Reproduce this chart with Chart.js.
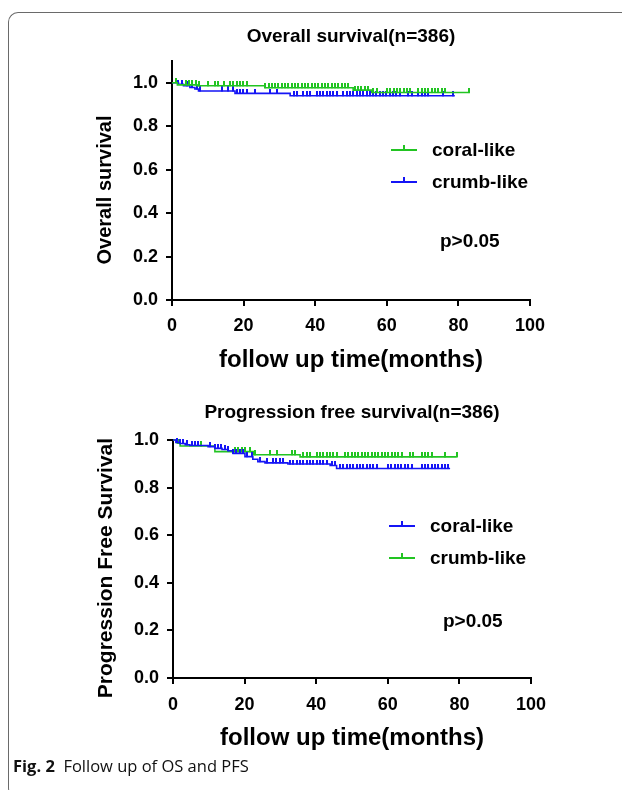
<!DOCTYPE html>
<html>
<head>
<meta charset="utf-8">
<script src="https://cdn.jsdelivr.net/npm/chart.js@4.4.0/dist/chart.umd.min.js"></script>
<style>
html,body{margin:0;padding:0;background:#fff;width:622px;height:790px;overflow:hidden;position:relative;}
#frame{position:absolute;left:8px;top:12px;width:720px;height:786px;border:1.5px solid #6a6a6a;border-right:none;border-radius:10px 0 0 10px;box-sizing:border-box;}
.cv{position:absolute;left:0;width:622px;height:380px;}
.txt{position:absolute;font:bold 19px "Liberation Sans",Arial,sans-serif;color:#000;white-space:nowrap;line-height:22px;height:22px;}
.ytl{position:absolute;font-family:"Liberation Sans",Arial,sans-serif;font-weight:bold;color:#000;white-space:nowrap;transform:translate(-50%,-50%) rotate(-90deg);line-height:1;}
.sw{position:absolute;height:2px;}
.sw i{position:absolute;left:12px;top:-4px;width:2px;height:4px;}
#cap{position:absolute;left:13px;top:755px;font:16.5px "Open Sans",sans-serif;color:#111;white-space:nowrap;line-height:22px;}
#cap b{font-weight:bold;}
</style>
</head>
<body>
<div id="frame"></div>
<canvas id="os" class="cv" width="622" height="380" style="top:0px"></canvas>
<canvas id="pfs" class="cv" width="622" height="380" style="top:380px"></canvas>
<div id="overlay"></div>
<div id="cap"><b>Fig. 2</b>&nbsp;&nbsp;Follow up of OS and PFS</div>
<script>
// ---------- data ----------
const seriesNames = ['coral-like', 'crumb-like'];
const osTitle = 'Overall survival(n=386)';
const pfsTitle = 'Progression free survival(n=386)';
const osYTitle = 'Overall survival';
const pfsYTitle = 'Progression Free Survival';
const xTitle = 'follow up time(months)';
const xTicks = [0, 20, 40, 60, 80, 100];
const yTicks = [0, 0.2, 0.4, 0.6, 0.8, 1.0];
const pText = 'p>0.05';

// Overall survival – coral-like (green)
const osCoralT = [0, 1.5, 7, 26, 50.6, 55.8];
const osCoralS = [1.0, 0.990, 0.986, 0.977, 0.966, 0.955];
const osCoralEnd = 83.2;
const osCoralCens = [1.0, 3.8, 4.7, 5.7, 6.6, 7.5, 10.1, 12.0, 12.9, 14.6, 16.2, 17.1, 18.1, 19.0, 19.9, 20.9,
  26.0, 27.0, 27.9, 28.8, 29.7, 30.7, 31.6, 32.5, 33.5, 34.4, 35.3, 36.2, 37.2, 38.1, 39.0, 39.9, 40.9, 41.8,
  42.7, 43.7, 44.6, 45.5, 46.4, 47.4, 48.3, 49.2, 51.0, 52.0, 52.9, 53.8, 54.8, 56.2, 57.2,
  60.0, 61.0, 61.9, 62.8, 63.7, 64.7, 65.6, 66.5, 68.8, 69.7, 70.7, 71.6, 72.5, 73.5, 74.4, 75.3, 76.3, 83.0];

// Overall survival – crumb-like (blue)
const osCrumbT = [0, 1.8, 3.2, 5.0, 6.4, 7.4, 17.6, 33.0];
const osCrumbS = [1.0, 0.993, 0.986, 0.978, 0.971, 0.962, 0.951, 0.940];
const osCrumbEnd = 79.0;
const osCrumbCens = [1.8, 2.7, 4.1, 5.5, 6.9, 7.8, 13.9, 15.7, 17.1, 18.1, 19.0, 19.9, 20.9, 23.2, 27.4, 29.2,
  34.0, 35.0, 36.7, 37.6, 38.5, 40.4, 41.3, 42.3, 43.2, 44.1, 45.1, 46.0, 47.8, 48.8, 49.7, 50.6, 51.6, 52.5,
  53.4, 54.4, 55.3, 56.2, 57.1, 58.1, 59.0, 59.9, 60.9, 61.8, 62.7, 63.7, 66.0, 67.0, 68.8, 69.7, 70.7, 71.6,
  75.8, 78.6];

// Progression free survival – coral-like (blue)
const pfsCoralT = [0, 0.8, 2.0, 3.4, 4.7, 9.8, 11.7, 13.7, 15.4, 16.8, 20.1, 22.3, 23.7, 25.7, 32.1, 43.9, 45.7];
const pfsCoralS = [1.0, 0.990, 0.985, 0.980, 0.977, 0.972, 0.965, 0.960, 0.955, 0.944, 0.930, 0.919, 0.909, 0.904, 0.899, 0.893, 0.880];
const pfsCoralEnd = 77.4;
const pfsCoralCens = [1.0, 2.0, 2.9, 3.8, 5.2, 6.1, 7.1, 10.3, 11.7, 12.6, 13.5, 14.5, 15.4, 16.8, 17.7, 18.7,
  19.6, 20.6, 22.0, 24.3, 26.2, 28.0, 28.9, 29.9, 30.8, 32.7, 33.6, 34.5, 35.5, 36.4, 37.3, 38.3, 39.2, 40.1,
  41.1, 42.0, 42.9, 44.3, 45.3, 46.6, 47.5, 48.5, 49.4, 50.3, 51.3, 52.2, 53.1, 54.1, 55.0, 55.9, 56.9,
  60.1, 61.0, 62.0, 62.9, 63.8, 64.8, 65.7, 66.7, 69.5, 70.4, 71.3, 72.3, 73.2, 74.1, 75.1, 76.0, 76.9];

// Progression free survival – crumb-like (green)
const pfsCrumbT = [0, 1.2, 2.0, 11.7, 22.4, 35.5];
const pfsCrumbS = [1.0, 0.987, 0.975, 0.951, 0.938, 0.929];
const pfsCrumbEnd = 79.2;
const pfsCrumbCens = [1.5, 7.8, 17.3, 18.2, 19.2, 20.1, 21.5, 22.9, 27.1, 29.0, 33.2, 34.1, 36.4, 37.4, 38.3,
  40.1, 41.0, 42.0, 42.9, 43.8, 44.8, 45.7, 48.0, 48.9, 49.9, 50.8, 51.7, 52.7, 53.6, 54.5, 55.5, 56.4, 57.3,
  58.3, 59.2, 60.1, 61.1, 62.0, 62.9, 63.9, 66.2, 67.1, 69.5, 70.4, 71.3, 72.3, 76.0, 79.2];

// ---------- styling ----------
const GREEN = '#22c422';
const BLUE = '#1515f5';
const FONT = '"Liberation Sans", Arial, sans-serif';

function stepAt(T, S, t) { let v = S[0]; for (let i = 0; i < T.length; i++) { if (T[i] <= t) v = S[i]; } return v; }
function curve(T, S, end) { const d = T.map((t, i) => ({x: t, y: S[i]})); d.push({x: end, y: S[S.length - 1]}); return d; }
function cens(T, S, C) { return C.map(t => ({x: t, y: stepAt(T, S, t)})); }
function tickImg(color) {
  const c = document.createElement('canvas'); c.width = 2; c.height = 9;
  const g = c.getContext('2d'); g.fillStyle = color; g.fillRect(0, 0, 2, 5); return c;
}

function series(T, S, end, C, color, label) {
  return [
    {label: label, data: curve(T, S, end), showLine: true, stepped: true, borderColor: color,
     borderWidth: 1.6, pointRadius: 0, fill: false, clip: false},
    {label: label + ' censored', data: cens(T, S, C), showLine: false, pointStyle: tickImg(color),
     pointRadius: 3, clip: false}
  ];
}

function makeChart(id, c) {
  return new Chart(document.getElementById(id), {
    type: 'scatter',
    data: {datasets: c.datasets},
    options: {
      responsive: false, animation: false, devicePixelRatio: 1,
      layout: {padding: {left: 0, right: c.padR, top: 0, bottom: 0}},
      plugins: {
        legend: {display: false}, tooltip: {enabled: false},
        title: {display: true, fullSize: false, text: c.title, color: '#000',
          font: {family: FONT, size: 19, weight: 'bold'}, padding: {top: c.tTop, bottom: c.tBot}}
      },
      scales: {
        x: {
          type: 'linear', min: 0, max: 100,
          afterBuildTicks: s => { s.ticks = xTicks.map(v => ({value: v})); },
          afterFit: s => { s.height = c.xH; },
          border: {display: true, color: '#000', width: 2},
          grid: {display: true, drawOnChartArea: false, drawTicks: true, tickLength: 6, color: '#000', lineWidth: 2},
          ticks: {color: '#000', font: {family: FONT, size: 18, weight: 'bold'}, padding: c.xtp, maxRotation: 0, autoSkip: false},
          title: {display: true, text: xTitle, color: '#000', font: {family: FONT, size: 24, weight: 'bold'},
            padding: {top: 0, bottom: c.xTitlePad}}
        },
        y: {
          type: 'linear', min: 0, max: c.yMax,
          afterBuildTicks: s => { s.ticks = yTicks.map(v => ({value: v})); },
          afterFit: s => { s.width = c.yW; },
          border: {display: true, color: '#000', width: 2},
          grid: {display: true, drawOnChartArea: false, drawTicks: true, tickLength: 6, color: '#000', lineWidth: 2},
          ticks: {color: '#000', font: {family: FONT, size: 18, weight: 'bold'}, padding: 8,
            callback: v => Number(v).toFixed(1)},
          title: {display: false}
        }
      }
    }
  });
}

makeChart('os', {
  title: osTitle, yMax: 1.1, padR: 92, tTop: 25.6, tBot: 12.6, xH: 80, xtp: 9.2,
  xTitlePad: 5.6, yW: 172,
  datasets: [
    ...series(osCoralT, osCoralS, osCoralEnd, osCoralCens, GREEN, seriesNames[0]),
    ...series(osCrumbT, osCrumbS, osCrumbEnd, osCrumbCens, BLUE, seriesNames[1])
  ]
});

makeChart('pfs', {
  title: pfsTitle, yMax: 1.0, padR: 91, tTop: 21.6, tBot: 15.6, xH: 82, xtp: 10.2,
  xTitlePad: 7.6, yW: 173,
  datasets: [
    ...series(pfsCoralT, pfsCoralS, pfsCoralEnd, pfsCoralCens, BLUE, seriesNames[0]),
    ...series(pfsCrumbT, pfsCrumbS, pfsCrumbEnd, pfsCrumbCens, GREEN, seriesNames[1])
  ]
});

// ---------- legends, axis titles and p-values (HTML overlay) ----------
const overlay = document.getElementById('overlay');
function legendItem(x, y, w, tx, color, label) {
  const sw = document.createElement('div'); sw.className = 'sw';
  sw.style.left = x + 'px'; sw.style.top = (y - 1) + 'px'; sw.style.width = w + 'px'; sw.style.background = color;
  const tk = document.createElement('i'); tk.style.background = color; tk.style.left = (w / 2 - 1) + 'px'; sw.appendChild(tk);
  overlay.appendChild(sw);
  const t = document.createElement('div'); t.className = 'txt'; t.textContent = label;
  t.style.left = tx + 'px'; t.style.top = (y - 11) + 'px'; overlay.appendChild(t);
}
function textAt(x, y, s) {
  const t = document.createElement('div'); t.className = 'txt'; t.textContent = s;
  t.style.left = x + 'px'; t.style.top = (y - 11) + 'px'; overlay.appendChild(t);
}
function yTitleAt(cx, cy, size, s) {
  const t = document.createElement('div'); t.className = 'ytl'; t.textContent = s;
  t.style.fontSize = size + 'px'; t.style.left = cx + 'px'; t.style.top = cy + 'px'; overlay.appendChild(t);
}
yTitleAt(104, 190, 20, osYTitle);
yTitleAt(104, 568, 21, pfsYTitle);
legendItem(391, 150, 26, 432, GREEN, seriesNames[0]);
legendItem(391, 182, 26, 432, BLUE, seriesNames[1]);
textAt(440, 241, pText);
legendItem(389, 526, 26, 430, BLUE, seriesNames[0]);
legendItem(389, 558, 26, 430, GREEN, seriesNames[1]);
textAt(443, 621, pText);
</script>
</body>
</html>
